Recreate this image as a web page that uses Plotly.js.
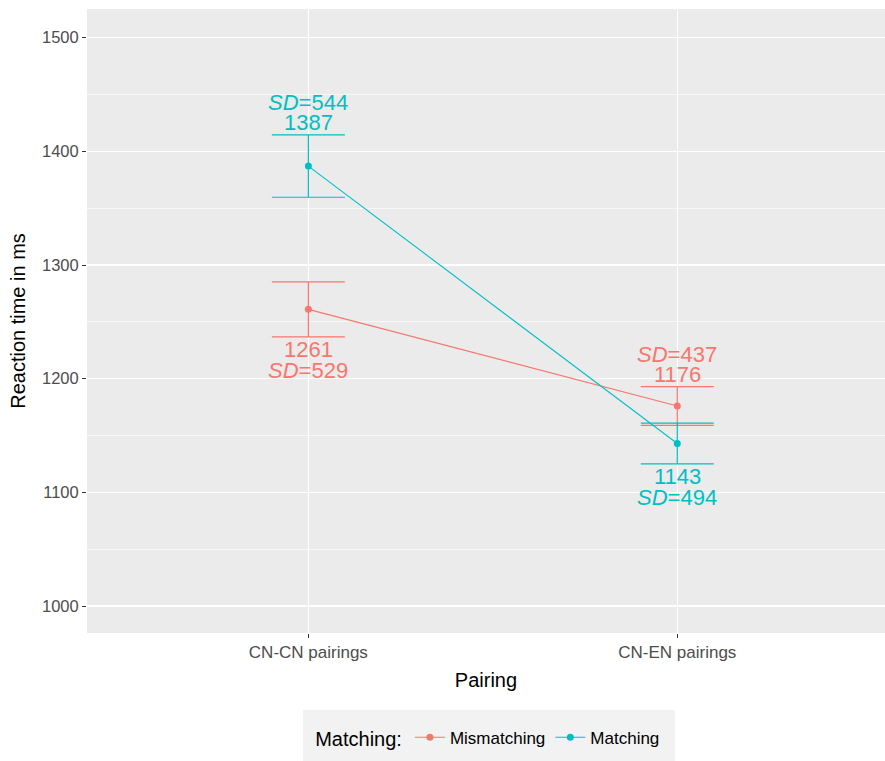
<!DOCTYPE html>
<html>
<head>
<meta charset="utf-8">
<script src="https://cdn.plot.ly/plotly-3.0.1.min.js"></script>
<style>html,body{margin:0;padding:0;background:#fff;}#chart{width:885px;height:761px;}</style>
</head>
<body>
<div id="chart"></div>
<script>
// ---- data ----
const pairings = ["CN-CN pairings", "CN-EN pairings"];
const groups = ["Mismatching", "Matching"];
const mismatchMean = [1261, 1176];
const mismatchSD = [529, 437];
const mismatchSE = [24.2, 17];
const matchMean = [1387, 1143];
const matchSD = [544, 494];
const matchSE = [27.4, 18];
// label placement: +1 = above the bar, -1 = below
const mismatchLabelSide = [-1, 1];
const matchLabelSide = [1, -1];

const colors = {Mismatching: "#F8766D", Matching: "#00BFC4"};
const font = "Liberation Sans, Arial, sans-serif";

function trace(name, mean, se) {
  return {
    type: "scatter", mode: "lines+markers", name: name,
    x: pairings, y: mean,
    line: {color: colors[name], width: 1.1},
    marker: {color: colors[name], size: 7},
    error_y: {type: "data", array: se, visible: true, width: 36.5, thickness: 1.2, color: colors[name]}
  };
}

const data = [
  trace("Mismatching", mismatchMean, mismatchSE),
  trace("Matching", matchMean, matchSE)
];

const annotations = [];
function addLabels(name, mean, sd, se, side) {
  for (let i = 0; i < pairings.length; i++) {
    const s = side[i];
    const yEdge = mean[i] + s * se[i];
    const c = colors[name];
    annotations.push({
      x: pairings[i], y: yEdge, xref: "x", yref: "y",
      text: String(mean[i]), showarrow: false,
      font: {family: font, size: 22, color: c},
      yanchor: "middle", xanchor: "center",
      yshift: s > 0 ? 12 : -13
    });
    annotations.push({
      x: pairings[i], y: yEdge, xref: "x", yref: "y",
      text: "<i>SD</i>=" + sd[i], showarrow: false,
      font: {family: font, size: 22, color: c},
      yanchor: "middle", xanchor: "center",
      yshift: s > 0 ? 32 : -34
    });
  }
}
addLabels("Mismatching", mismatchMean, mismatchSD, mismatchSE, mismatchLabelSide);
addLabels("Matching", matchMean, matchSD, matchSE, matchLabelSide);

const layout = {
  width: 885, height: 761,
  margin: {l: 87, r: 0, t: 9, b: 128},
  paper_bgcolor: "#FFFFFF",
  plot_bgcolor: "#EBEBEB",
  font: {family: font, color: "#4D4D4D", size: 16},
  showlegend: true,
  xaxis: {
    type: "category",
    range: [-0.6, 1.563],
    showgrid: true, gridcolor: "#FFFFFF", gridwidth: 1.2,
    zeroline: false, showline: false,
    ticks: "outside", ticklen: 4, tickcolor: "#333333", tickwidth: 1,
    tickfont: {family: font, size: 17, color: "#4D4D4D"},
    title: {text: "Pairing", font: {family: font, size: 20, color: "#000000"}, standoff: 11}
  },
  yaxis: {
    range: [976.3, 1525.2],
    tickmode: "linear", tick0: 1000, dtick: 100,
    showgrid: true, gridcolor: "#FFFFFF", gridwidth: 1.2,
    minor: {dtick: 50, tick0: 1000, showgrid: true, gridcolor: "#FFFFFF", gridwidth: 0.6, ticks: ""},
    zeroline: false, showline: false,
    ticks: "outside", ticklen: 4, tickcolor: "#333333", tickwidth: 1,
    tickfont: {family: font, size: 16.5, color: "#4D4D4D"},
    title: {text: "Reaction time in ms", font: {family: font, size: 20, color: "#000000"}, standoff: 10}
  },
  legend: {
    orientation: "h",
    x: 0.504, xanchor: "center",
    y: -0.139, yanchor: "top",
    bgcolor: "rgba(0,0,0,0)",
    font: {family: font, size: 17, color: "#000000"},
    title: {text: "Matching:", font: {family: font, size: 20, color: "#000000"}},
    itemwidth: 30
  },
  shapes: [{
    type: "rect", xref: "paper", yref: "paper",
    x0: 0.2707, x1: 0.7368, y0: -0.205, y1: -0.1234,
    fillcolor: "#F2F2F2", line: {width: 0}, layer: "below"
  }],
  annotations: annotations
};

Plotly.newPlot("chart", data, layout, {displayModeBar: false, staticPlot: true});
</script>
</body>
</html>
